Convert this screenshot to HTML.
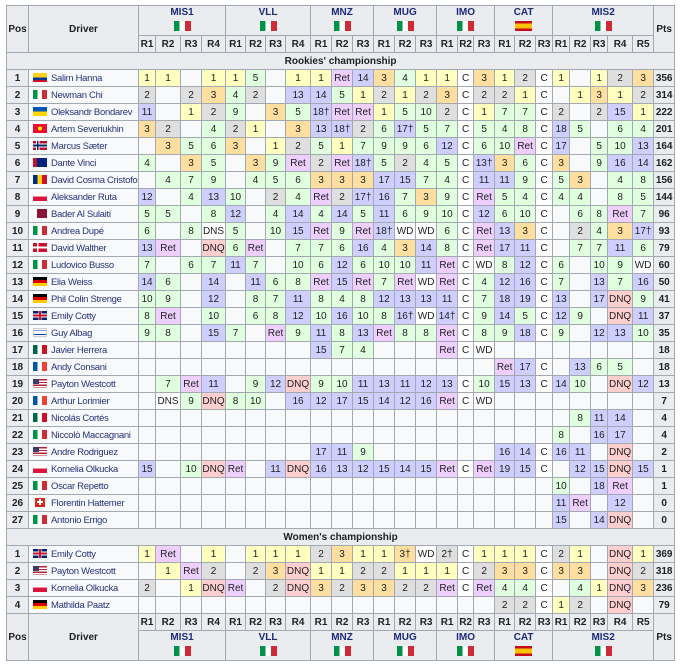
<!DOCTYPE html>
<html><head><meta charset="utf-8"><style>
body{margin:0;background:#fff;width:680px;height:666px;overflow:hidden;font-family:"Liberation Sans",sans-serif}
table{position:absolute;left:6px;top:5px;border-collapse:collapse;table-layout:fixed;width:668px;font-size:10px;color:#202122;background:#f8f9fa}
td,th{border:1px solid #a2a9b1;padding:0;text-align:center;white-space:nowrap;overflow:hidden;height:16px;line-height:15px}
th{background:#eaecf0;font-weight:bold}
.race{color:#1b2a7a;font-weight:bold;line-height:13px}
.pos,.pts{background:#eaecf0;font-weight:bold}
td.dr{text-align:left;padding-left:4px;color:#26337a;background:#f8f9fa;font-size:9.5px;letter-spacing:-0.3px}
.g{background:#ffffbf}.s{background:#dfdfdf}.b{background:#ffdf9f}.p{background:#dfffdf}.n{background:#cfcfff}.r{background:#efcfff}.q{background:#ffcfcf}.w{background:#fff}
.sec{background:#eaecf0;font-weight:bold;text-align:center}
.f{display:inline-block;width:14px;height:9px;vertical-align:-1px;margin-right:4px}
.hf{display:inline-block;width:17px;height:10px;margin-top:2px}
.it{background:linear-gradient(to right,#009246 33%,#fff 33% 66%,#ce2b37 66%)}
.es{background:linear-gradient(#c60b1e 25%,#ffc400 25% 75%,#c60b1e 75%)}
.co{background:linear-gradient(#fcd116 50%,#003893 50% 75%,#ce1126 75%)}
.ua{background:linear-gradient(#0057b7 50%,#ffd700 50%)}
.kg{background:radial-gradient(circle,#ffef00 22%,#e8112d 26%)}
.no{background:linear-gradient(to right,transparent 28%,#002868 28% 40%,transparent 40%),linear-gradient(transparent 40%,#002868 40% 60%,transparent 60%),linear-gradient(to right,transparent 22%,#fff 22% 46%,transparent 46%),linear-gradient(transparent 28%,#fff 28% 72%,transparent 72%),#ba0c2f}
.dk{background:linear-gradient(to right,transparent 28%,#fff 28% 40%,transparent 40%),linear-gradient(transparent 40%,#fff 40% 60%,transparent 60%),#c8102e}
.au{background:linear-gradient(to right,#c8102e 0 4px,transparent 4px),#00247d}
.ro{background:linear-gradient(to right,#002b7f 33%,#fcd116 33% 66%,#ce1126 66%)}
.pl{background:linear-gradient(#fff 50%,#dc143c 50%)}
.qa{background:linear-gradient(to right,#fff 30%,#8a1538 30%)}
.de{background:linear-gradient(#000 33%,#dd0000 33% 66%,#ffce00 66%)}
.gb{background:linear-gradient(transparent 40%,#c8102e 40% 60%,transparent 60%),linear-gradient(to right,transparent 44%,#c8102e 44% 56%,transparent 56%),linear-gradient(transparent 30%,#fff 30% 70%,transparent 70%),linear-gradient(to right,transparent 38%,#fff 38% 62%,transparent 62%),#012169}
.il{background:linear-gradient(#fff 12%,#0038b8 12% 25%,#fff 25% 75%,#0038b8 75% 88%,#fff 88%);border:1px solid #ccc;box-sizing:border-box}
.mx{background:linear-gradient(to right,#006847 33%,#fff 33% 66%,#ce1126 66%)}
.fr{background:linear-gradient(to right,#0055a4 33%,#fff 33% 66%,#ef4135 66%)}
.us{background:linear-gradient(#3c3b6e,#3c3b6e) 0 0/6px 5px no-repeat,repeating-linear-gradient(#b22234 0 1.4px,#fff 1.4px 2.8px)}
.ch{background:linear-gradient(#fff,#fff) 50% 50%/6px 2px no-repeat,linear-gradient(#fff,#fff) 50% 50%/2px 6px no-repeat,#d52b1e;width:10px;margin-left:2px;margin-right:6px}
</style></head><body>
<table>
<colgroup><col style="width:22px"><col style="width:110px"><col style="width:17px"><col style="width:25px"><col style="width:21px"><col style="width:24px"><col style="width:20px"><col style="width:20px"><col style="width:20px"><col style="width:25px"><col style="width:21px"><col style="width:21px"><col style="width:21px"><col style="width:21px"><col style="width:21px"><col style="width:21px"><col style="width:21px"><col style="width:16px"><col style="width:21px"><col style="width:20px"><col style="width:21px"><col style="width:17px"><col style="width:17px"><col style="width:21px"><col style="width:17px"><col style="width:25px"><col style="width:21px"><col style="width:21px"></colgroup>
<tr style="height:29px"><th rowspan="2">Pos</th><th rowspan="2">Driver</th><th colspan="4" class="race">MIS1<br><span class="hf it"></span></th><th colspan="4" class="race">VLL<br><span class="hf it"></span></th><th colspan="3" class="race">MNZ<br><span class="hf it"></span></th><th colspan="3" class="race">MUG<br><span class="hf it"></span></th><th colspan="3" class="race">IMO<br><span class="hf it"></span></th><th colspan="3" class="race">CAT<br><span class="hf es"></span></th><th colspan="5" class="race">MIS2<br><span class="hf it"></span></th><th rowspan="2">Pts</th></tr>
<tr style="height:17px"><th>R1</th><th>R2</th><th>R3</th><th>R4</th><th>R1</th><th>R2</th><th>R3</th><th>R4</th><th>R1</th><th>R2</th><th>R3</th><th>R1</th><th>R2</th><th>R3</th><th>R1</th><th>R2</th><th>R3</th><th>R1</th><th>R2</th><th>R3</th><th>R1</th><th>R2</th><th>R3</th><th>R4</th><th>R5</th></tr>
<tr style="height:17px"><td colspan="28" class="sec">Rookies' championship</td></tr>
<tr><td class="pos">1</td><td class="dr"><span class="f co"></span>Salim Hanna</td><td class="g">1</td><td class="g">1</td><td></td><td class="g">1</td><td class="g">1</td><td class="p">5</td><td></td><td class="g">1</td><td class="g">1</td><td class="r">Ret</td><td class="n">14</td><td class="b">3</td><td class="p">4</td><td class="g">1</td><td class="g">1</td><td class="w">C</td><td class="b">3</td><td class="g">1</td><td class="s">2</td><td class="w">C</td><td class="g">1</td><td></td><td class="g">1</td><td class="s">2</td><td class="b">3</td><td class="pts">356</td></tr>
<tr><td class="pos">2</td><td class="dr"><span class="f it"></span>Newman Chi</td><td class="s">2</td><td></td><td class="s">2</td><td class="b">3</td><td class="p">4</td><td class="s">2</td><td></td><td class="n">13</td><td class="n">14</td><td class="p">5</td><td class="g">1</td><td class="s">2</td><td class="g">1</td><td class="s">2</td><td class="b">3</td><td class="w">C</td><td class="s">2</td><td class="s">2</td><td class="g">1</td><td class="w">C</td><td></td><td class="g">1</td><td class="b">3</td><td class="g">1</td><td class="s">2</td><td class="pts">314</td></tr>
<tr><td class="pos">3</td><td class="dr"><span class="f ua"></span>Oleksandr Bondarev</td><td class="n">11</td><td></td><td class="g">1</td><td class="s">2</td><td class="p">9</td><td></td><td class="b">3</td><td class="p">5</td><td class="n">18†</td><td class="r">Ret</td><td class="r">Ret</td><td class="g">1</td><td class="p">5</td><td class="p">10</td><td class="s">2</td><td class="w">C</td><td class="g">1</td><td class="p">7</td><td class="p">7</td><td class="w">C</td><td class="s">2</td><td></td><td class="s">2</td><td class="n">15</td><td class="g">1</td><td class="pts">222</td></tr>
<tr><td class="pos">4</td><td class="dr"><span class="f kg"></span>Artem Severiukhin</td><td class="b">3</td><td class="s">2</td><td></td><td class="p">4</td><td class="s">2</td><td class="g">1</td><td></td><td class="b">3</td><td class="n">13</td><td class="n">18†</td><td class="s">2</td><td class="p">6</td><td class="n">17†</td><td class="p">5</td><td class="p">7</td><td class="w">C</td><td class="p">5</td><td class="p">4</td><td class="p">8</td><td class="w">C</td><td class="n">18</td><td class="p">5</td><td></td><td class="p">6</td><td class="p">4</td><td class="pts">201</td></tr>
<tr><td class="pos">5</td><td class="dr"><span class="f no"></span>Marcus Sæter</td><td></td><td class="b">3</td><td class="p">5</td><td class="p">6</td><td class="b">3</td><td></td><td class="g">1</td><td class="s">2</td><td class="p">5</td><td class="g">1</td><td class="p">7</td><td class="p">9</td><td class="p">9</td><td class="p">6</td><td class="n">12</td><td class="w">C</td><td class="p">6</td><td class="p">10</td><td class="r">Ret</td><td class="w">C</td><td class="n">17</td><td></td><td class="p">5</td><td class="p">10</td><td class="n">13</td><td class="pts">164</td></tr>
<tr><td class="pos">6</td><td class="dr"><span class="f au"></span>Dante Vinci</td><td class="p">4</td><td></td><td class="b">3</td><td class="p">5</td><td></td><td class="b">3</td><td class="p">9</td><td class="r">Ret</td><td class="s">2</td><td class="r">Ret</td><td class="n">18†</td><td class="p">5</td><td class="s">2</td><td class="p">4</td><td class="p">5</td><td class="w">C</td><td class="n">13†</td><td class="b">3</td><td class="p">6</td><td class="w">C</td><td class="b">3</td><td></td><td class="p">9</td><td class="n">16</td><td class="n">14</td><td class="pts">162</td></tr>
<tr><td class="pos">7</td><td class="dr"><span class="f ro"></span>David Cosma Cristofor</td><td></td><td class="p">4</td><td class="p">7</td><td class="p">9</td><td></td><td class="p">4</td><td class="p">5</td><td class="p">6</td><td class="b">3</td><td class="b">3</td><td class="b">3</td><td class="n">17</td><td class="n">15</td><td class="p">7</td><td class="p">4</td><td class="w">C</td><td class="n">11</td><td class="n">11</td><td class="p">9</td><td class="w">C</td><td class="p">5</td><td class="b">3</td><td></td><td class="p">4</td><td class="p">8</td><td class="pts">156</td></tr>
<tr><td class="pos">8</td><td class="dr"><span class="f pl"></span>Aleksander Ruta</td><td class="n">12</td><td></td><td class="p">4</td><td class="n">13</td><td class="p">10</td><td></td><td class="s">2</td><td class="p">4</td><td class="r">Ret</td><td class="s">2</td><td class="n">17†</td><td class="n">16</td><td class="p">7</td><td class="b">3</td><td class="p">9</td><td class="w">C</td><td class="r">Ret</td><td class="p">5</td><td class="p">4</td><td class="w">C</td><td class="p">4</td><td class="p">4</td><td></td><td class="p">8</td><td class="p">5</td><td class="pts">144</td></tr>
<tr><td class="pos">9</td><td class="dr"><span class="f qa"></span>Bader Al Sulaiti</td><td class="p">5</td><td class="p">5</td><td></td><td class="p">8</td><td class="n">12</td><td></td><td class="p">4</td><td class="n">14</td><td class="p">4</td><td class="n">14</td><td class="p">5</td><td class="n">11</td><td class="p">6</td><td class="p">9</td><td class="p">10</td><td class="w">C</td><td class="n">12</td><td class="p">6</td><td class="p">10</td><td class="w">C</td><td></td><td class="p">6</td><td class="p">8</td><td class="r">Ret</td><td class="p">7</td><td class="pts">96</td></tr>
<tr><td class="pos">10</td><td class="dr"><span class="f it"></span>Andrea Dupé</td><td class="p">6</td><td></td><td class="p">8</td><td class="w">DNS</td><td class="p">5</td><td></td><td class="p">10</td><td class="n">15</td><td class="r">Ret</td><td class="p">9</td><td class="r">Ret</td><td class="n">18†</td><td class="w">WD</td><td class="w">WD</td><td class="p">6</td><td class="w">C</td><td class="r">Ret</td><td class="n">13</td><td class="b">3</td><td class="w">C</td><td></td><td class="s">2</td><td class="p">4</td><td class="b">3</td><td class="n">17†</td><td class="pts">93</td></tr>
<tr><td class="pos">11</td><td class="dr"><span class="f dk"></span>David Walther</td><td class="n">13</td><td class="r">Ret</td><td></td><td class="q">DNQ</td><td class="p">6</td><td class="r">Ret</td><td></td><td class="p">7</td><td class="p">7</td><td class="p">6</td><td class="n">16</td><td class="p">4</td><td class="b">3</td><td class="n">14</td><td class="p">8</td><td class="w">C</td><td class="r">Ret</td><td class="n">17</td><td class="n">11</td><td class="w">C</td><td></td><td class="p">7</td><td class="p">7</td><td class="n">11</td><td class="p">6</td><td class="pts">79</td></tr>
<tr><td class="pos">12</td><td class="dr"><span class="f it"></span>Ludovico Busso</td><td class="p">7</td><td></td><td class="p">6</td><td class="p">7</td><td class="n">11</td><td class="p">7</td><td></td><td class="p">10</td><td class="p">6</td><td class="n">12</td><td class="p">6</td><td class="p">10</td><td class="p">10</td><td class="n">11</td><td class="r">Ret</td><td class="w">C</td><td class="w">WD</td><td class="p">8</td><td class="n">12</td><td class="w">C</td><td class="p">6</td><td></td><td class="p">10</td><td class="p">9</td><td class="w">WD</td><td class="pts">60</td></tr>
<tr><td class="pos">13</td><td class="dr"><span class="f de"></span>Elia Weiss</td><td class="n">14</td><td class="p">6</td><td></td><td class="n">14</td><td></td><td class="n">11</td><td class="p">6</td><td class="p">8</td><td class="r">Ret</td><td class="n">15</td><td class="r">Ret</td><td class="p">7</td><td class="r">Ret</td><td class="w">WD</td><td class="r">Ret</td><td class="w">C</td><td class="p">4</td><td class="n">12</td><td class="n">16</td><td class="w">C</td><td class="p">7</td><td></td><td class="n">13</td><td class="p">7</td><td class="n">16</td><td class="pts">50</td></tr>
<tr><td class="pos">14</td><td class="dr"><span class="f de"></span>Phil Colin Strenge</td><td class="p">10</td><td class="p">9</td><td></td><td class="n">12</td><td></td><td class="p">8</td><td class="p">7</td><td class="n">11</td><td class="p">8</td><td class="p">4</td><td class="p">8</td><td class="n">12</td><td class="n">13</td><td class="n">13</td><td class="n">11</td><td class="w">C</td><td class="p">7</td><td class="n">18</td><td class="n">19</td><td class="w">C</td><td class="n">13</td><td></td><td class="n">17</td><td class="q">DNQ</td><td class="p">9</td><td class="pts">41</td></tr>
<tr><td class="pos">15</td><td class="dr"><span class="f gb"></span>Emily Cotty</td><td class="p">8</td><td class="r">Ret</td><td></td><td class="p">10</td><td></td><td class="p">6</td><td class="p">8</td><td class="n">12</td><td class="p">10</td><td class="n">16</td><td class="p">10</td><td class="p">8</td><td class="n">16†</td><td class="w">WD</td><td class="n">14†</td><td class="w">C</td><td class="p">9</td><td class="n">14</td><td class="p">5</td><td class="w">C</td><td class="n">12</td><td class="p">9</td><td></td><td class="q">DNQ</td><td class="n">11</td><td class="pts">37</td></tr>
<tr><td class="pos">16</td><td class="dr"><span class="f il"></span>Guy Albag</td><td class="p">9</td><td class="p">8</td><td></td><td class="n">15</td><td class="p">7</td><td></td><td class="r">Ret</td><td class="p">9</td><td class="n">11</td><td class="p">8</td><td class="n">13</td><td class="r">Ret</td><td class="p">8</td><td class="p">8</td><td class="r">Ret</td><td class="w">C</td><td class="p">8</td><td class="p">9</td><td class="n">18</td><td class="w">C</td><td class="p">9</td><td></td><td class="n">12</td><td class="n">13</td><td class="p">10</td><td class="pts">35</td></tr>
<tr><td class="pos">17</td><td class="dr"><span class="f mx"></span>Javier Herrera</td><td></td><td></td><td></td><td></td><td></td><td></td><td></td><td></td><td class="n">15</td><td class="p">7</td><td class="p">4</td><td></td><td></td><td></td><td class="r">Ret</td><td class="w">C</td><td class="w">WD</td><td></td><td></td><td></td><td></td><td></td><td></td><td></td><td></td><td class="pts">18</td></tr>
<tr><td class="pos">18</td><td class="dr"><span class="f fr"></span>Andy Consani</td><td></td><td></td><td></td><td></td><td></td><td></td><td></td><td></td><td></td><td></td><td></td><td></td><td></td><td></td><td></td><td></td><td></td><td class="r">Ret</td><td class="n">17</td><td class="w">C</td><td></td><td class="n">13</td><td class="p">6</td><td class="p">5</td><td></td><td class="pts">18</td></tr>
<tr><td class="pos">19</td><td class="dr"><span class="f us"></span>Payton Westcott</td><td></td><td class="p">7</td><td class="r">Ret</td><td class="n">11</td><td></td><td class="p">9</td><td class="n">12</td><td class="q">DNQ</td><td class="p">9</td><td class="p">10</td><td class="n">11</td><td class="n">13</td><td class="n">11</td><td class="n">12</td><td class="n">13</td><td class="w">C</td><td class="p">10</td><td class="n">15</td><td class="n">13</td><td class="w">C</td><td class="n">14</td><td class="p">10</td><td></td><td class="q">DNQ</td><td class="n">12</td><td class="pts">13</td></tr>
<tr><td class="pos">20</td><td class="dr"><span class="f fr"></span>Arthur Lorimier</td><td></td><td class="w">DNS</td><td class="p">9</td><td class="q">DNQ</td><td class="p">8</td><td class="p">10</td><td></td><td class="n">16</td><td class="n">12</td><td class="n">17</td><td class="n">15</td><td class="n">14</td><td class="n">12</td><td class="n">16</td><td class="r">Ret</td><td class="w">C</td><td class="w">WD</td><td></td><td></td><td></td><td></td><td></td><td></td><td></td><td></td><td class="pts">7</td></tr>
<tr><td class="pos">21</td><td class="dr"><span class="f mx"></span>Nicolás Cortés</td><td></td><td></td><td></td><td></td><td></td><td></td><td></td><td></td><td></td><td></td><td></td><td></td><td></td><td></td><td></td><td></td><td></td><td></td><td></td><td></td><td></td><td class="p">8</td><td class="n">11</td><td class="n">14</td><td></td><td class="pts">4</td></tr>
<tr><td class="pos">22</td><td class="dr"><span class="f it"></span>Niccolò Maccagnani</td><td></td><td></td><td></td><td></td><td></td><td></td><td></td><td></td><td></td><td></td><td></td><td></td><td></td><td></td><td></td><td></td><td></td><td></td><td></td><td></td><td class="p">8</td><td></td><td class="n">16</td><td class="n">17</td><td></td><td class="pts">4</td></tr>
<tr><td class="pos">23</td><td class="dr"><span class="f us"></span>Andre Rodriguez</td><td></td><td></td><td></td><td></td><td></td><td></td><td></td><td></td><td class="n">17</td><td class="n">11</td><td class="p">9</td><td></td><td></td><td></td><td></td><td></td><td></td><td class="n">16</td><td class="n">14</td><td class="w">C</td><td class="n">16</td><td class="n">11</td><td></td><td class="q">DNQ</td><td></td><td class="pts">2</td></tr>
<tr><td class="pos">24</td><td class="dr"><span class="f pl"></span>Kornelia Olkucka</td><td class="n">15</td><td></td><td class="p">10</td><td class="q">DNQ</td><td class="r">Ret</td><td></td><td class="n">11</td><td class="q">DNQ</td><td class="n">16</td><td class="n">13</td><td class="n">12</td><td class="n">15</td><td class="n">14</td><td class="n">15</td><td class="r">Ret</td><td class="w">C</td><td class="r">Ret</td><td class="n">19</td><td class="n">15</td><td class="w">C</td><td></td><td class="n">12</td><td class="n">15</td><td class="q">DNQ</td><td class="n">15</td><td class="pts">1</td></tr>
<tr><td class="pos">25</td><td class="dr"><span class="f it"></span>Oscar Repetto</td><td></td><td></td><td></td><td></td><td></td><td></td><td></td><td></td><td></td><td></td><td></td><td></td><td></td><td></td><td></td><td></td><td></td><td></td><td></td><td></td><td class="p">10</td><td></td><td class="n">18</td><td class="r">Ret</td><td></td><td class="pts">1</td></tr>
<tr><td class="pos">26</td><td class="dr"><span class="f ch"></span>Florentin Hattemer</td><td></td><td></td><td></td><td></td><td></td><td></td><td></td><td></td><td></td><td></td><td></td><td></td><td></td><td></td><td></td><td></td><td></td><td></td><td></td><td></td><td class="n">11</td><td class="r">Ret</td><td></td><td class="n">12</td><td></td><td class="pts">0</td></tr>
<tr><td class="pos">27</td><td class="dr"><span class="f it"></span>Antonio Errigo</td><td></td><td></td><td></td><td></td><td></td><td></td><td></td><td></td><td></td><td></td><td></td><td></td><td></td><td></td><td></td><td></td><td></td><td></td><td></td><td></td><td class="n">15</td><td></td><td class="n">14</td><td class="q">DNQ</td><td></td><td class="pts">0</td></tr>
<tr style="height:17px"><td colspan="28" class="sec">Women's championship</td></tr>
<tr><td class="pos">1</td><td class="dr"><span class="f gb"></span>Emily Cotty</td><td class="g">1</td><td class="r">Ret</td><td></td><td class="g">1</td><td></td><td class="g">1</td><td class="g">1</td><td class="g">1</td><td class="s">2</td><td class="b">3</td><td class="g">1</td><td class="g">1</td><td class="b">3†</td><td class="w">WD</td><td class="s">2†</td><td class="w">C</td><td class="g">1</td><td class="g">1</td><td class="g">1</td><td class="w">C</td><td class="s">2</td><td class="g">1</td><td></td><td class="q">DNQ</td><td class="g">1</td><td class="pts">369</td></tr>
<tr><td class="pos">2</td><td class="dr"><span class="f us"></span>Payton Westcott</td><td></td><td class="g">1</td><td class="r">Ret</td><td class="s">2</td><td></td><td class="s">2</td><td class="b">3</td><td class="q">DNQ</td><td class="g">1</td><td class="g">1</td><td class="s">2</td><td class="s">2</td><td class="g">1</td><td class="g">1</td><td class="g">1</td><td class="w">C</td><td class="s">2</td><td class="b">3</td><td class="b">3</td><td class="w">C</td><td class="b">3</td><td class="b">3</td><td></td><td class="q">DNQ</td><td class="s">2</td><td class="pts">318</td></tr>
<tr><td class="pos">3</td><td class="dr"><span class="f pl"></span>Kornelia Olkucka</td><td class="s">2</td><td></td><td class="g">1</td><td class="q">DNQ</td><td class="r">Ret</td><td></td><td class="s">2</td><td class="q">DNQ</td><td class="b">3</td><td class="s">2</td><td class="b">3</td><td class="b">3</td><td class="s">2</td><td class="s">2</td><td class="r">Ret</td><td class="w">C</td><td class="r">Ret</td><td class="p">4</td><td class="p">4</td><td class="w">C</td><td></td><td class="p">4</td><td class="g">1</td><td class="q">DNQ</td><td class="b">3</td><td class="pts">236</td></tr>
<tr><td class="pos">4</td><td class="dr"><span class="f de"></span>Mathilda Paatz</td><td></td><td></td><td></td><td></td><td></td><td></td><td></td><td></td><td></td><td></td><td></td><td></td><td></td><td></td><td></td><td></td><td></td><td class="s">2</td><td class="s">2</td><td class="w">C</td><td class="g">1</td><td class="s">2</td><td></td><td class="q">DNQ</td><td></td><td class="pts">79</td></tr>
<tr style="height:17px"><th rowspan="2">Pos</th><th rowspan="2">Driver</th><th>R1</th><th>R2</th><th>R3</th><th>R4</th><th>R1</th><th>R2</th><th>R3</th><th>R4</th><th>R1</th><th>R2</th><th>R3</th><th>R1</th><th>R2</th><th>R3</th><th>R1</th><th>R2</th><th>R3</th><th>R1</th><th>R2</th><th>R3</th><th>R1</th><th>R2</th><th>R3</th><th>R4</th><th>R5</th><th rowspan="2">Pts</th></tr>
<tr style="height:29px"><th colspan="4" class="race">MIS1<br><span class="hf it"></span></th><th colspan="4" class="race">VLL<br><span class="hf it"></span></th><th colspan="3" class="race">MNZ<br><span class="hf it"></span></th><th colspan="3" class="race">MUG<br><span class="hf it"></span></th><th colspan="3" class="race">IMO<br><span class="hf it"></span></th><th colspan="3" class="race">CAT<br><span class="hf es"></span></th><th colspan="5" class="race">MIS2<br><span class="hf it"></span></th></tr>
</table>
</body></html>
